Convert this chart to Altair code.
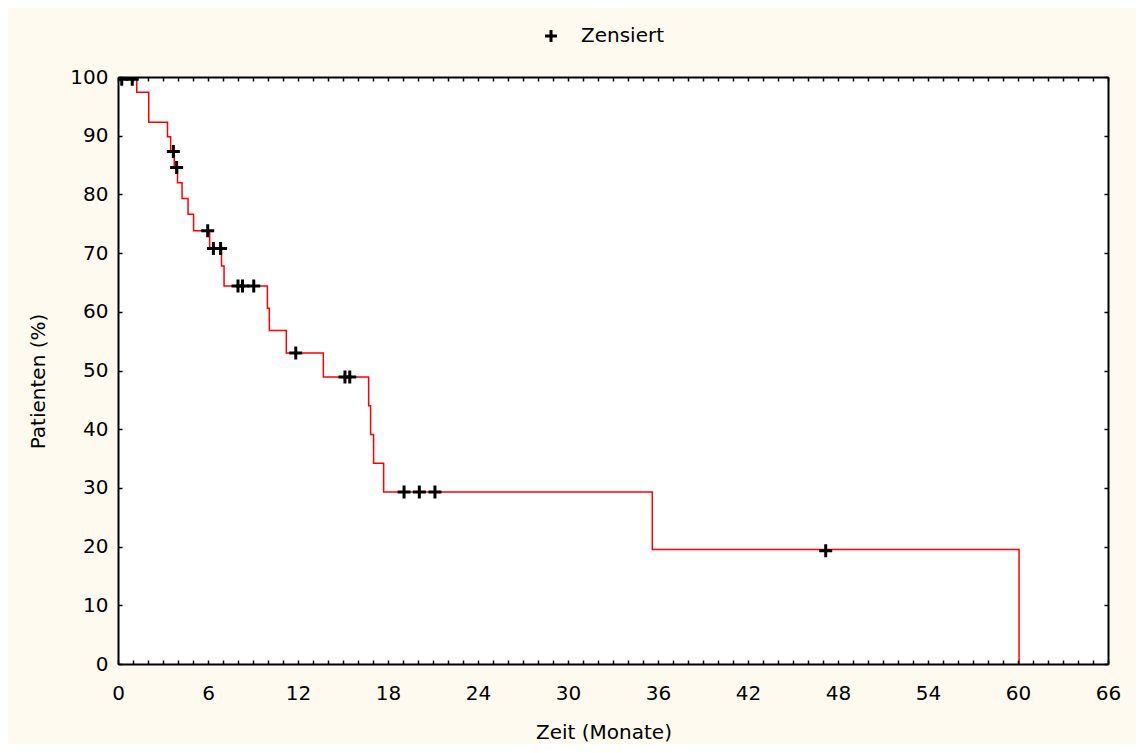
import altair as alt
import pandas as pd

# Kaplan-Meier step points (time in months, survival in %)
step_time = [0, 1.25, 2.05, 3.3, 3.51, 3.75, 3.97, 4.27, 4.67, 5.04, 6.11, 6.9, 7.07,
             9.96, 10.09, 11.22, 13.69, 16.71, 16.84, 17.04, 17.71, 35.62, 60.07]
step_surv = [100, 97.4, 92.3, 89.8, 87.3, 84.6, 82.0, 79.3, 76.6, 73.8, 70.8, 67.8, 64.4,
             60.6, 56.8, 53.0, 48.9, 44.0, 39.1, 34.2, 29.3, 19.5, 0]

# Censored observations
cens_time = [0.25, 0.95, 3.69, 3.91, 5.98, 6.36, 6.84, 8.0, 8.3, 9.05, 11.85,
             15.13, 15.45, 19.07, 20.09, 21.13, 47.18]
cens_surv = [99.6, 99.6, 87.3, 84.6, 73.8, 70.8, 70.8, 64.4, 64.4, 64.4, 53.0,
             48.9, 48.9, 29.3, 29.3, 29.3, 19.3]
cens_label = "Zensiert"

x_ticks = list(range(0, 67, 1))
y_ticks = list(range(0, 101, 10))

line_df = pd.DataFrame({"t": step_time, "s": step_surv})
cens_df = pd.DataFrame({"t": cens_time, "s": cens_surv, "g": [cens_label] * len(cens_time)})

FONT = "DejaVu Sans"
FS = 20
PLUS = "M-1,0H1M0,-1V1"

xs = alt.Scale(domain=[0, 66], nice=False, zero=False)
ys = alt.Scale(domain=[0, 100], nice=False)

common_axis = dict(
    domain=True, domainColor="black", domainWidth=2,
    ticks=True, tickColor="black", tickWidth=1.5, tickSize={"expr": "-4"},
    grid=False, zindex=1, labelFont=FONT, labelFontSize=FS, labelColor="black",
    titleFont=FONT, titleFontSize=FS, titleColor="black", titleFontWeight="normal",
    labelFlush=False, labelOverlap=False,
)

line = alt.Chart(line_df).mark_line(
    color="#ff0000", strokeWidth=1.5, interpolate="step-after", clip=True
).encode(
    x=alt.X("t:Q", scale=xs, axis=alt.Axis(
        orient="bottom", values=x_ticks,
        labelExpr="datum.value % 6 === 0 ? datum.label : ''",
        labelPadding=23, title="Zeit (Monate)", titleX=485.5, titleY=74,
        titleBaseline="alphabetic", titleAlign="center", **common_axis)),
    y=alt.Y("s:Q", scale=ys, axis=alt.Axis(
        orient="left", values=y_ticks, labelPadding=14,
        title="Patienten (%)", titleX=-74, titleY=304, titleAngle=270,
        titleBaseline="alphabetic", titleAlign="center", **common_axis)),
)

points = alt.Chart(cens_df).mark_point(
    filled=False, color="black", strokeWidth=3, size=169, opacity=1, clip=True
).encode(
    x=alt.X("t:Q", scale=xs, axis=alt.Axis(
        orient="top", values=x_ticks, labels=False, title=None, **common_axis)),
    y=alt.Y("s:Q", scale=ys, axis=alt.Axis(
        orient="right", values=y_ticks, labels=False, title=None, **common_axis)),
    shape=alt.Shape("g:N", scale=alt.Scale(domain=[cens_label], range=[PLUS]),
                    legend=alt.Legend(
                        orient="none", legendX=423, legendY=-51, title=None,
                        labelFont=FONT, labelFontSize=FS, labelColor="black",
                        symbolStrokeColor="black", symbolStrokeWidth=3,
                        symbolFillColor="transparent", symbolSize=144,
                        labelOffset=20, padding=0)),
)

chart = alt.layer(line, points).resolve_axis(
    x="independent", y="independent"
).properties(
    width=990, height=587,
    autosize=alt.AutoSizeParams(type="none"),
    padding={"left": 110, "top": 69, "right": 28, "bottom": 80},
    background="#fffaf0",
).configure_view(
    fill="white", stroke="transparent"
)

chart.save("out.html", embed_options={"renderer": "svg", "actions": False})
